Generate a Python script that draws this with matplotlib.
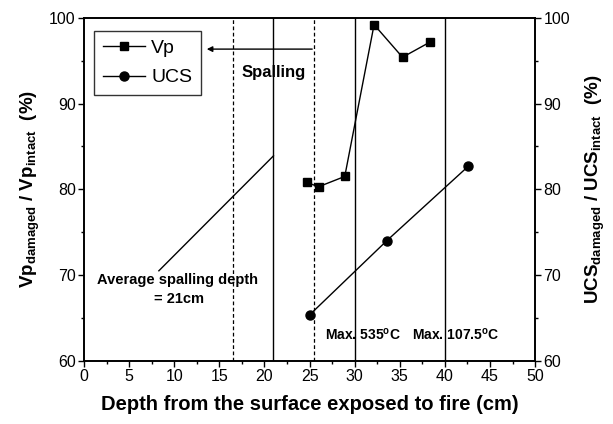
import matplotlib
matplotlib.use("Agg")
import matplotlib.pyplot as plt
from matplotlib.ticker import MultipleLocator

plt.rcParams['font.family'] = ['Liberation Sans', 'DejaVu Sans']
plt.rcParams['mathtext.fontset'] = 'custom'
plt.rcParams['mathtext.rm'] = 'Liberation Sans'
plt.rcParams['mathtext.bf'] = 'Liberation Sans:bold'

# data
vp_depth = [24.7, 26.0, 28.9, 32.15, 35.3, 38.4]
vp_ratio = [80.8, 80.3, 81.5, 99.2, 95.4, 97.2]
ucs_depth = [25.05, 33.55, 42.6]
ucs_ratio = [65.4, 74.0, 82.7]
dashed_lines = [16.5, 25.5]
solid_lines = [21.0, 30.0, 40.0]

fig = plt.figure(figsize=(6.13, 4.24), dpi=100)
ax = fig.add_axes([0.137, 0.149, 0.736, 0.809])
ax2 = ax.twinx()

for x in dashed_lines:
    ax.axvline(x, color='black', lw=0.9, ls=(0, (3, 2)))
for x in solid_lines:
    ax.axvline(x, color='black', lw=1.0)

ax.plot(vp_depth, vp_ratio, '-s', color='black', lw=1.0, ms=6, label='Vp')
ax2.plot(ucs_depth, ucs_ratio, '-o', color='black', lw=1.0, ms=6.5, label='UCS')

ax.set_xlim(0, 50)
ax.set_ylim(60, 100)
ax2.set_ylim(60, 100)
ax.xaxis.set_major_locator(MultipleLocator(5))
ax.xaxis.set_minor_locator(MultipleLocator(2.5))
for a in (ax, ax2):
    a.yaxis.set_major_locator(MultipleLocator(10))
    a.yaxis.set_minor_locator(MultipleLocator(5))
    a.tick_params(which='major', direction='out', length=4, width=1, labelsize=11.5, pad=2)
    a.tick_params(which='minor', direction='out', length=2.5, width=1)
    for s in a.spines.values():
        s.set_linewidth(1.2)

ax.set_xlabel('Depth from the surface exposed to fire (cm)', fontsize=14.5, fontweight='bold', labelpad=8)
ax.set_ylabel(r'$\mathbf{Vp_{damaged}}$ / $\mathbf{Vp_{intact}}$  (%)', fontsize=13.5,
              fontweight='bold', labelpad=5)
ax2.set_ylabel(r'$\mathbf{UCS_{damaged}}$ / $\mathbf{UCS_{intact}}$  (%)', fontsize=13.5,
               fontweight='bold', labelpad=10)

# spalling arrow and labels
ax.annotate('', xy=(13.3, 96.35), xytext=(25.6, 96.35),
            arrowprops=dict(arrowstyle='-|>', color='black', lw=1.0, mutation_scale=8))
ax.text(21.0, 93.6, 'Spalling', fontsize=12, fontweight='bold', ha='center', va='center')

ax.plot([8.3, 21.0], [70.5, 83.9], color='black', lw=1.0)
ax.text(10.4, 69.4, 'Average spalling depth', fontsize=10.5, fontweight='bold', ha='center', va='center')
ax.text(10.5, 67.2, '= 21cm', fontsize=10.5, fontweight='bold', ha='center', va='center')

ax.text(26.7, 63.0, r'Max. 535$^{\mathbf{o}}$C', fontsize=10, fontweight='bold', ha='left', va='center')
ax.text(36.4, 63.0, r'Max. 107.5$^{\mathbf{o}}$C', fontsize=10, fontweight='bold', ha='left', va='center')

h1, l1 = ax.get_legend_handles_labels()
h2, l2 = ax2.get_legend_handles_labels()
leg = ax2.legend(h1 + h2, l1 + l2, loc='upper left', bbox_to_anchor=(0.022, 0.962),
                 borderaxespad=0, fontsize=14, frameon=True, fancybox=False, edgecolor='black',
                 handlelength=2.2, borderpad=0.45, labelspacing=0.6, handletextpad=0.3)
leg.get_frame().set_linewidth(1.0)

fig.savefig('out.png', dpi=100)
